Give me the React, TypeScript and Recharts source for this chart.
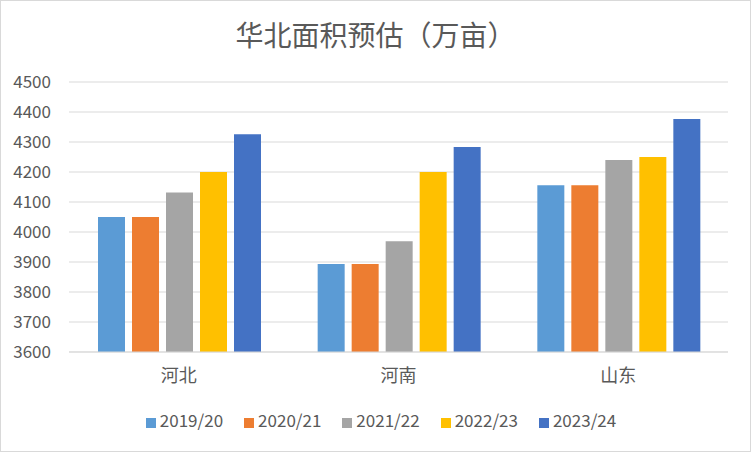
import { Bar, BarChart, CartesianGrid, Legend, XAxis, YAxis } from "recharts";

const regions = ["河北", "河南", "山东"];
const y1920 = [4050, 3893, 4156];
const y2021 = [4050, 3893, 4156];
const y2122 = [4132, 3969, 4240];
const y2223 = [4200, 4200, 4250];
const y2324 = [4326, 4283, 4377];
const yTicks = [3600, 3700, 3800, 3900, 4000, 4100, 4200, 4300, 4400, 4500];

const seasons = [
  { key: "2019/20", values: y1920, color: "#5b9bd5" },
  { key: "2020/21", values: y2021, color: "#ed7d31" },
  { key: "2021/22", values: y2122, color: "#a5a5a5" },
  { key: "2022/23", values: y2223, color: "#ffc000" },
  { key: "2023/24", values: y2324, color: "#4472c4" },
];

const data = regions.map((name, i) => {
  const row: Record<string, string | number> = { name };
  seasons.forEach((s) => {
    row[s.key] = s.values[i];
  });
  return row;
});

const font = '"Microsoft YaHei", "Noto Sans CJK SC", sans-serif';
const textColor = "#595959";

export default function App() {
  return (
    <div
      style={{
        position: "fixed",
        left: 0,
        top: 0,
        width: 751,
        height: 452,
        boxSizing: "border-box",
        border: "1px solid #d9d9d9",
        background: "#fff",
        fontFamily: font,
      }}
    >
      <div
        style={{
          position: "absolute",
          top: 14,
          left: 0,
          width: "100%",
          textAlign: "center",
          fontSize: 28,
          color: textColor,
          lineHeight: "38px",
        }}
      >
        华北面积预估（万亩）
      </div>
      <BarChart
        width={749}
        height={450}
        data={data}
        margin={{ top: 81, right: 22, left: 0, bottom: 14 }}
        barCategoryGap={29}
        barGap={7}
      >
        <CartesianGrid vertical={false} stroke="#d9d9d9" strokeWidth={1} />
        <XAxis
          dataKey="name"
          axisLine={{ stroke: "#d9d9d9" }}
          tickLine={false}
          tickMargin={11}
          height={55}
          tick={{ fill: textColor, fontSize: 18, fontFamily: font }}
        />
        <YAxis
          domain={[3600, 4500]}
          ticks={yTicks}
          axisLine={false}
          tickLine={false}
          width={68}
          tickMargin={12}
          tick={{ fill: textColor, fontSize: 17, fontFamily: font }}
        />
        <Legend
          verticalAlign="bottom"
          height={30}
          iconType="square"
          iconSize={10}
          wrapperStyle={{ left: 27 }}
          formatter={(value) => (
            <span style={{ color: textColor, fontSize: 17, marginRight: 11 }}>
              {value}
            </span>
          )}
        />
        {seasons.map((s) => (
          <Bar
            key={s.key}
            dataKey={s.key}
            fill={s.color}
            isAnimationActive={false}
          />
        ))}
      </BarChart>
    </div>
  );
}
